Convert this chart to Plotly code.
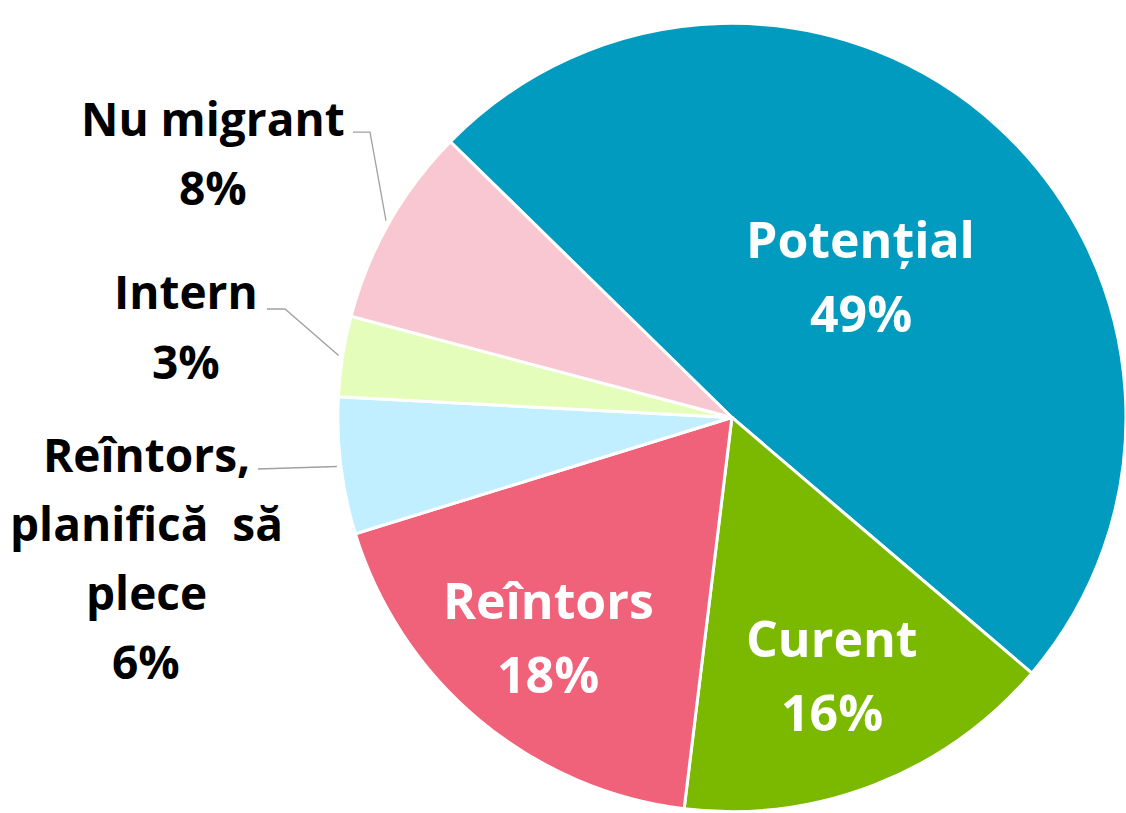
import math
import plotly.graph_objects as go

# ---- data ----
labels = ["Potențial", "Curent", "Reîntors", "Reîntors, planifică să plece", "Intern", "Nu migrant"]
label_lines = [["Potențial"], ["Curent"], ["Reîntors"], ["Reîntors,", "planifică  să", "plece"], ["Intern"], ["Nu migrant"]]
values = [48.9, 15.7, 18.3, 5.6, 3.3, 8.2]
colors = ["#029BC0", "#7BB800", "#F0617A", "#C1EFFF", "#E5FDBA", "#F9C7D1"]

W, H = 1126, 813
dom_x = [0.300, 1.0]
dom_y = [0.0, 0.973]
ROT = -45.6  # first slice starts at ~10:30, clockwise

FONT = "'Open Sans', Lato, sans-serif"

fig = go.Figure(go.Pie(
    labels=labels,
    values=values,
    sort=False,
    direction="clockwise",
    rotation=ROT,
    marker=dict(colors=colors, line=dict(color="white", width=3)),
    textinfo="none",
    hoverinfo="label+percent",
    showlegend=False,
    domain=dict(x=dom_x, y=dom_y),
))

# geometry (pixels) derived from domain
px0, px1 = dom_x[0] * W, dom_x[1] * W
py0, py1 = (1 - dom_y[1]) * H, (1 - dom_y[0]) * H
cx, cy = (px0 + px1) / 2, (py0 + py1) / 2
R = min(px1 - px0, py1 - py0) / 2

total = sum(values)
mids = []
acc = 0.0
for v in values:
    mids.append(ROT + (acc + v / 2) / total * 360)
    acc += v
pct = [f"{round(v / total * 100)}%" for v in values]


def to_px(angle_deg, frac):
    a = math.radians(angle_deg)
    return cx + frac * R * math.sin(a), cy - frac * R * math.cos(a)


def paper(x, y):
    return x / W, 1 - y / H


annotations = []
shapes = []


def add_block(lines, x, yc, gap, size, color, weight):
    n = len(lines)
    for k, txt in enumerate(lines):
        y = yc + (k - (n - 1) / 2) * gap
        xp, yp = paper(x, y)
        annotations.append(dict(
            x=xp, y=yp, xref="paper", yref="paper", showarrow=False,
            text=txt, xanchor="center", yanchor="middle",
            font=dict(family=FONT, size=size, color=color, weight=weight),
        ))


# inside labels (white)
inside_r = {0: 0.485, 1: 0.70, 2: 0.726}
for i, fr in inside_r.items():
    x, y = to_px(mids[i], fr)
    add_block(label_lines[i] + [pct[i]], x, y, 74, 50, "white", 700)

# outside labels (black) with leader lines
outside = {
    5: dict(pos=(213, 152), elbow=[(353, 132), (370, 132)]),
    4: dict(pos=(186, 326), elbow=[(267, 309), (285, 309)]),
    3: dict(pos=(146, 557), elbow=[(258, 469)]),
}
for i, spec in outside.items():
    add_block(label_lines[i] + [pct[i]], spec["pos"][0], spec["pos"][1], 69, 46, "black", 700)
    pts = spec["elbow"] + [to_px(mids[i], 1.01)]
    path = "M " + " L ".join(f"{paper(x, y)[0]:.4f},{paper(x, y)[1]:.4f}" for x, y in pts)
    shapes.append(dict(type="path", path=path, xref="paper", yref="paper",
                       line=dict(color="#A0A0A0", width=1.3)))

fig.update_layout(
    width=W, height=H,
    margin=dict(l=0, r=0, t=0, b=0),
    paper_bgcolor="white",
    plot_bgcolor="white",
    annotations=annotations,
    shapes=shapes,
)

fig.write_html("out.html", config={"displayModeBar": False},
               post_script="document.body.style.margin='0';document.body.style.overflow='hidden';")
